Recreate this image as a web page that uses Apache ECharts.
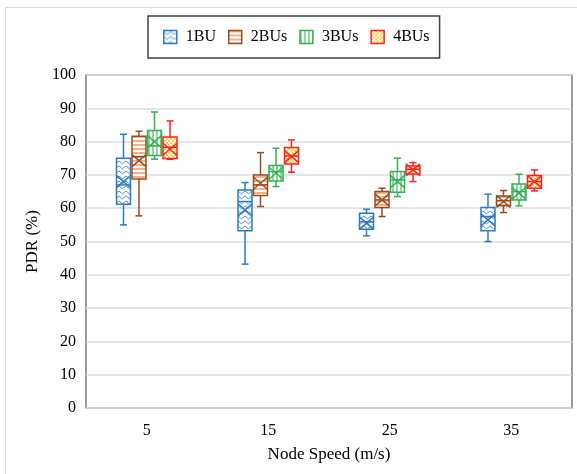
<!DOCTYPE html>
<html>
<head>
<meta charset="utf-8">
<script src="https://cdn.jsdelivr.net/npm/echarts@6/dist/echarts.min.js"></script>
<style>
  html, body { margin: 0; padding: 0; background: #fff; }
  #chart { width: 577px; height: 474px; }
</style>
</head>
<body>
<div id="chart"></div>
<script>
// node speeds (categories)
var speeds = ['5', '15', '25', '35'];
var seriesNames = ['1BU', '2BUs', '3BUs', '4BUs'];

// box stats per speed: [min, q1, median, q3, max]
var bu1 = [[55.0, 61.2, 67.0, 75.0, 82.2], [43.2, 53.2, 62.0, 65.5, 67.7], [51.7, 53.7, 55.9, 58.5, 59.7], [50.0, 53.2, 57.5, 60.2, 64.2]];
var bu2 = [[57.7, 68.8, 75.5, 81.6, 83.1], [60.5, 63.8, 67.0, 70.0, 76.7], [57.5, 60.2, 62.5, 65.0, 66.0], [58.7, 60.7, 62.3, 63.7, 65.3]];
var bu3 = [[74.7, 75.8, 78.7, 83.3, 88.9], [66.5, 68.2, 71.0, 72.8, 78.0], [63.5, 64.8, 68.5, 71.0, 75.0], [60.7, 62.5, 65.0, 67.3, 70.2]];
var bu4 = [[74.7, 74.9, 78.3, 81.4, 86.2], [70.8, 73.3, 75.7, 78.2, 80.5], [68.0, 70.3, 71.7, 72.7, 73.7], [65.2, 66.0, 68.0, 69.8, 71.5]];

// means (the X marks)
var mean1 = [68.0, 59.5, 55.5, 56.5];
var mean2 = [74.3, 67.5, 62.5, 62.0];
var mean3 = [80.0, 70.5, 68.0, 64.5];
var mean4 = [77.7, 75.5, 71.5, 68.0];

var yTicks = { min: 0, max: 100, interval: 10 };

var lineColors = ['#2a7ac9', '#974d1f', '#2cb44e', '#ff1f1f'];

// small canvas tiles for the hatch fills
function tile(w, h, draw) {
  var c = document.createElement('canvas');
  c.width = w; c.height = h;
  var ctx = c.getContext('2d');
  ctx.fillStyle = '#fff';
  ctx.fillRect(0, 0, w, h);
  draw(ctx);
  return { image: c, repeat: 'repeat' };
}
var fills = [
  tile(7, 5, function (ctx) {           // waves
    ctx.strokeStyle = '#4a90d9';
    ctx.lineWidth = 1;
    ctx.beginPath();
    ctx.moveTo(0, 1); ctx.lineTo(3.5, 3.8); ctx.lineTo(7, 1);
    ctx.stroke();
  }),
  tile(4, 4, function (ctx) {           // horizontal stripes
    ctx.fillStyle = '#f4b183';
    ctx.fillRect(0, 0, 4, 2);
  }),
  tile(4, 4, function (ctx) {           // vertical stripes
    ctx.fillStyle = '#93d6a2';
    ctx.fillRect(0, 0, 2, 4);
  }),
  tile(4, 4, function (ctx) {           // checker
    ctx.fillStyle = '#ffcf40';
    ctx.fillRect(0, 0, 2, 2);
    ctx.fillRect(2, 2, 2, 2);
  })
];

var stats = [bu1, bu2, bu3, bu4];
var means = [mean1, mean2, mean3, mean4];

function renderBox(idx) {
  return function (params, api) {
    var ci = api.value(0);
    var pMin = api.coord([ci, api.value(1)]);
    var pQ1 = api.coord([ci, api.value(2)]);
    var pMed = api.coord([ci, api.value(3)]);
    var pQ3 = api.coord([ci, api.value(4)]);
    var pMax = api.coord([ci, api.value(5)]);
    var pMean = api.coord([ci, api.value(6)]);
    var cx = pMed[0] + (idx - 1.5) * 15.5;
    var hw = 7, cap = 3.5, xh = 6;
    var stroke = { stroke: lineColors[idx], lineWidth: 1.5, fill: null };
    function ln(x1, y1, x2, y2) {
      return { type: 'line', shape: { x1: x1, y1: y1, x2: x2, y2: y2 }, style: stroke };
    }
    return {
      type: 'group',
      children: [
        ln(cx, pQ3[1], cx, pMax[1]),
        ln(cx, pQ1[1], cx, pMin[1]),
        ln(cx - cap, pMax[1], cx + cap, pMax[1]),
        ln(cx - cap, pMin[1], cx + cap, pMin[1]),
        {
          type: 'rect',
          shape: { x: cx - hw, y: pQ3[1], width: hw * 2, height: pQ1[1] - pQ3[1] },
          style: { fill: fills[idx], stroke: lineColors[idx], lineWidth: 1.5 }
        },
        ln(cx - hw, pMed[1], cx + hw, pMed[1]),
        ln(cx - hw, pMean[1] - xh, cx + hw, pMean[1] + xh),
        ln(cx - hw, pMean[1] + xh, cx + hw, pMean[1] - xh)
      ]
    };
  };
}

var series = seriesNames.map(function (name, i) {
  var data = speeds.map(function (s, k) {
    return [k].concat(stats[i][k]).concat([means[i][k]]);
  });
  return {
    name: name,
    type: 'custom',
    renderItem: renderBox(i),
    encode: { x: 0, y: [1, 2, 3, 4, 5, 6] },
    itemStyle: { color: fills[i], borderColor: lineColors[i], borderWidth: 1.5 },
    data: data
  };
});

var serif = 'Liberation Serif';
var chart = echarts.init(document.getElementById('chart'), null, { renderer: 'canvas' });
chart.setOption({
  animation: false,
  backgroundColor: '#fff',
  graphic: [{
    type: 'rect',
    z: -10,
    shape: { x: 5.5, y: 7.5, width: 620, height: 520 },
    style: { fill: null, stroke: '#d9d9d9', lineWidth: 1 }
  }],
  legend: {
    left: 148,
    top: 16,
    padding: [13, 10, 13, 15],
    borderColor: '#404040',
    borderWidth: 1.5,
    itemWidth: 13,
    itemHeight: 13,
    itemGap: 12,
    textStyle: { fontFamily: serif, fontSize: 16, color: '#000', padding: [0, 0, 0, 4] },
    data: seriesNames.map(function (n, i) {
      return { name: n, icon: 'rect', itemStyle: { color: fills[i], borderColor: lineColors[i], borderWidth: 1.5 } };
    })
  },
  grid: {
    left: 86, right: 5, top: 75, bottom: 66,
    show: true,
    borderColor: '#595959',
    borderWidth: 1.2
  },
  xAxis: {
    type: 'category',
    data: speeds,
    name: 'Node Speed (m/s)',
    nameLocation: 'middle',
    nameGap: 38,
    nameTextStyle: { fontFamily: serif, fontSize: 17, color: '#000' },
    axisLine: { show: false },
    axisTick: { show: false },
    axisLabel: { fontFamily: serif, fontSize: 16, color: '#000', margin: 15 }
  },
  yAxis: {
    type: 'value',
    min: yTicks.min,
    max: yTicks.max,
    interval: yTicks.interval,
    name: 'PDR (%)',
    nameLocation: 'middle',
    nameGap: 41,
    nameTextStyle: { fontFamily: serif, fontSize: 17, color: '#000' },
    axisLine: { show: false },
    axisTick: { show: false },
    axisLabel: { fontFamily: serif, fontSize: 16, color: '#000', margin: 10 },
    splitLine: { lineStyle: { color: '#dcdcdc', width: 1.5 } }
  },
  series: series
});
</script>
</body>
</html>
